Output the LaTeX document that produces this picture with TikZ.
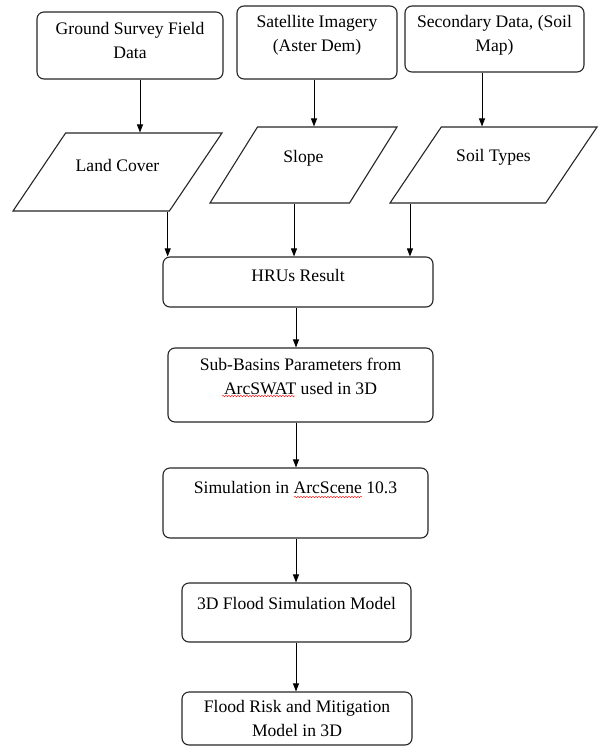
\documentclass[tikz,border=0pt]{standalone}
\usepackage{fontspec}
\setmainfont{Liberation Serif}
\usetikzlibrary{shapes.geometric,arrows.meta,decorations.pathmorphing}

\tikzset{
	box/.style={draw=black!85, line width=1.1pt, rounded corners=7pt, fill=white,
		align=center, inner sep=3pt, font=\fontsize{17.6}{24}\selectfont},
	dataset/.style={trapezium, trapezium stretches body, draw=black!85, line width=1.1pt,
		fill=white, align=center, text height=12pt, inner xsep=3pt,
		font=\fontsize{17.6}{24}\selectfont},
	arrow/.style={-{Triangle[length=8pt,width=6pt]}, line width=0.9pt},
	squiggle/.style={red, line width=0.4pt, decorate,
		decoration={snake, amplitude=0.8pt, segment length=3pt}}
}

\begin{document}
\begin{tikzpicture}[x=1pt, y=-1pt]
	
	\useasboundingbox (0, 0) rectangle (599, 747);
	
	\node[box, minimum width=186pt, minimum height=67pt, text depth=11pt] (ground) at (130, 45.5) {Ground Survey Field\\Data};
	\node[box, minimum width=160pt, minimum height=73pt, text depth=18.5pt] (satellite) at (317, 42.5) {Satellite Imagery\\(Aster Dem)};
	\node[box, minimum width=179pt, minimum height=66pt, text depth=11.5pt] (secondary) at (494.5, 39) {Secondary Data, (Soil\\Map)};
	
	\node[dataset, trapezium left angle=56, trapezium right angle=124, minimum width=209pt, text depth=14pt, inner ysep=26pt] (landcover) at (117.5, 172) {Land Cover};
	\node[dataset, trapezium left angle=58, trapezium right angle=122, minimum width=187pt, text depth=17.5pt, inner ysep=23.25pt] (slope) at (303.5, 165) {Slope};
	\node[dataset, trapezium left angle=56, trapezium right angle=124, minimum width=207pt, text depth=19.5pt, inner ysep=22.25pt] (soil) at (493.5, 165) {Soil Types};
	
	\node[box, minimum width=270pt, minimum height=50pt, text depth=14pt] (hrus) at (298, 282) {HRUs Result};
	\node[box, minimum width=265pt, minimum height=74pt, text depth=18pt] (subbasins) at (300.5, 385) {Sub-Basins Parameters from\\ArcSWAT used in 3D};
	\node[box, minimum width=265pt, minimum height=70pt, text depth=32pt] (simulation) at (295.5, 503) {Simulation in ArcScene 10.3};
	\node[box, minimum width=229pt, minimum height=59pt, text depth=19pt] (model) at (296.5, 612.5) {3D Flood Simulation Model};
	\node[box, minimum width=230pt, minimum height=53pt] (risk) at (297, 718.5) {Flood Risk and Mitigation\\Model in 3D};
	
	\coordinate (spine) at (296, 0);
	
	\draw[arrow] ([xshift=10pt]ground.south) -- ([xshift=10pt]ground.south |- landcover.north);
	\draw[arrow] ([xshift=-3pt]satellite.south) -- ([xshift=-3pt]satellite.south |- slope.north);
	\draw[arrow] ([xshift=-12.5pt]secondary.south) -- ([xshift=-12.5pt]secondary.south |- soil.north);
	
	\draw[arrow] ([xshift=-2pt]landcover.bottom right corner) -- ([xshift=-2pt]landcover.bottom right corner |- hrus.north);
	\draw[arrow] ([xshift=85pt]slope.bottom left corner) -- ([xshift=85pt]slope.bottom left corner |- hrus.north);
	\draw[arrow] ([xshift=21pt]soil.bottom left corner) -- ([xshift=21pt]soil.bottom left corner |- hrus.north);
	
	\draw[arrow] (hrus.south -| spine) -- (subbasins.north -| spine);
	\draw[arrow] (subbasins.south -| spine) -- (simulation.north -| spine);
	\draw[arrow] (simulation.south -| spine) -- (model.north -| spine);
	\draw[arrow] (model.south -| spine) -- (risk.north -| spine);
	
	% spell check marks
	\draw[squiggle] (222, 396) -- (295, 396);
	\draw[squiggle] (294, 497) -- (362, 497);
	
\end{tikzpicture}
\end{document}
